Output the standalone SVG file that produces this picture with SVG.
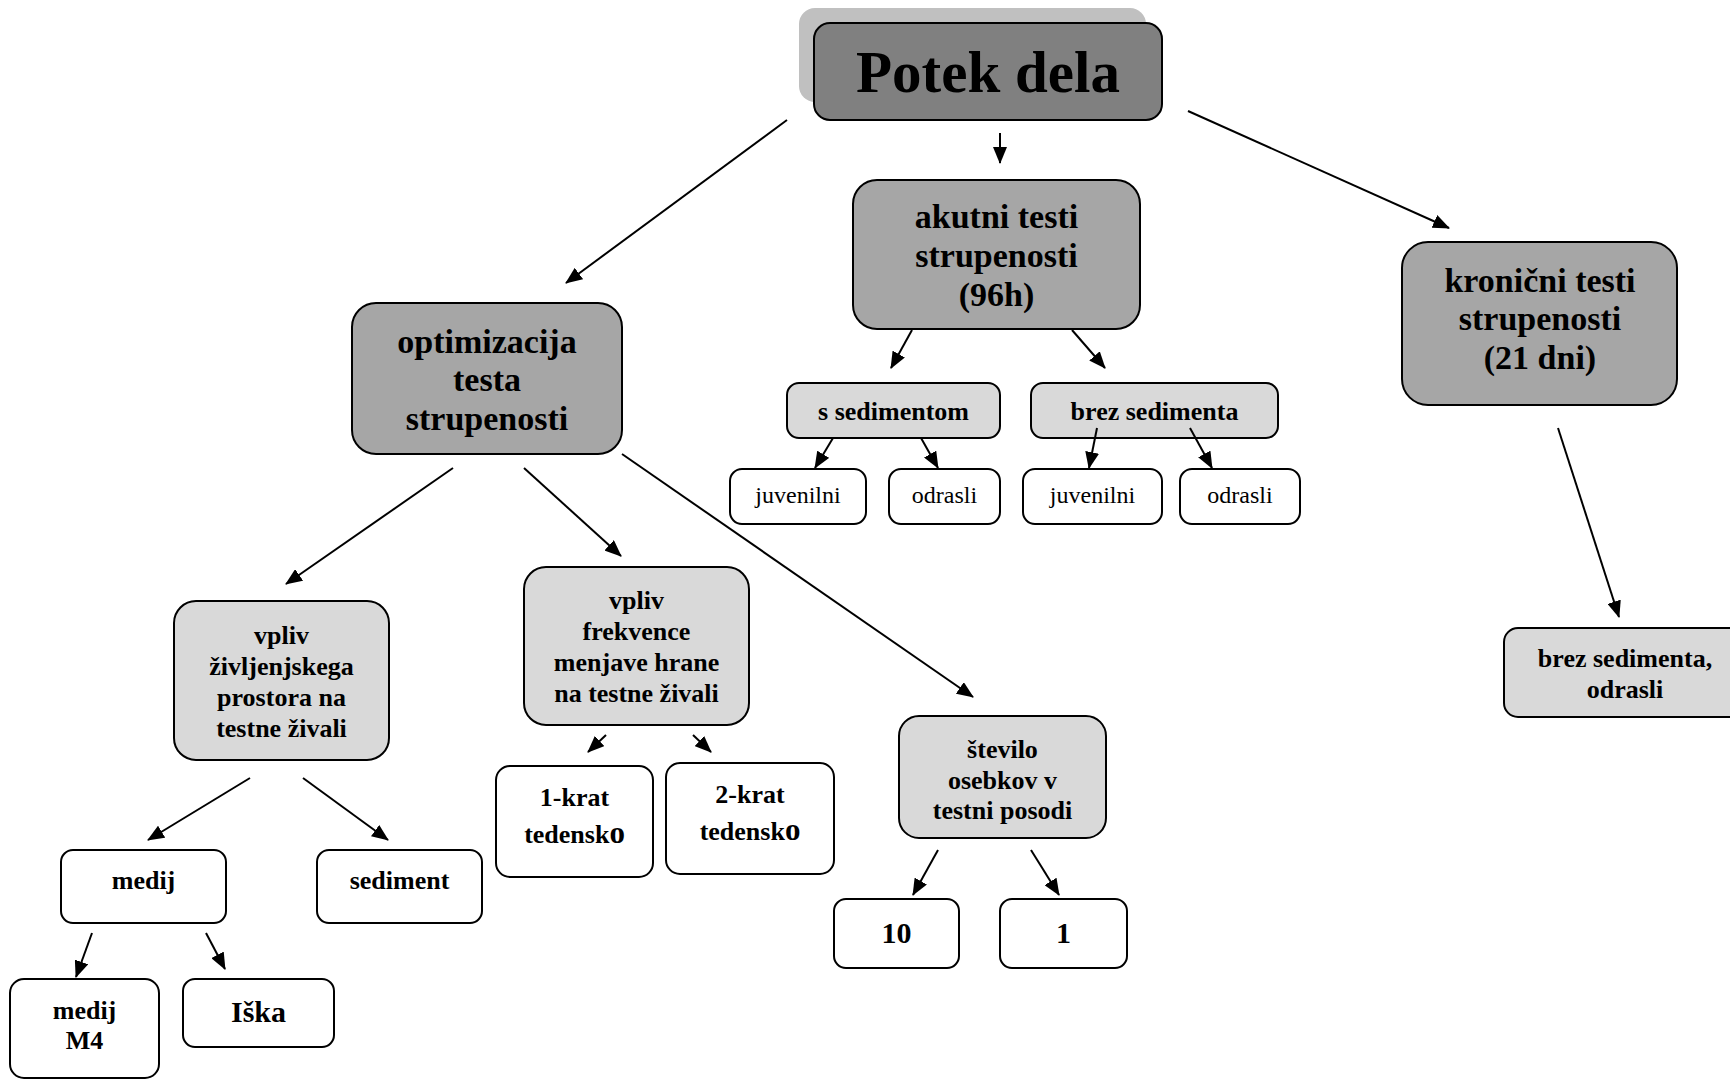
<svg xmlns="http://www.w3.org/2000/svg" width="1730" height="1081" viewBox="0 0 1730 1081">
<style>
text{font-family:"Liberation Serif","Times New Roman",serif;text-anchor:middle;fill:#000}
.b{font-weight:bold}
.box{stroke:#000;stroke-width:2}
.d{fill:#a6a6a6}
.l{fill:#d9d9d9}
.w{fill:#fff}
.t34{font-size:34px;font-weight:bold}
.t26{font-size:26px;font-weight:bold}
.t24{font-size:24px}
.t30{font-size:30px;font-weight:bold}
.c line{stroke:#000;stroke-width:2;marker-end:url(#ah)}
</style>
<defs>
<marker id="ah" viewBox="0 0 17 14" refX="16" refY="7" markerWidth="17" markerHeight="14" markerUnits="userSpaceOnUse" orient="auto">
<path d="M0,0 L17,7 L0,14 z" fill="#000"/>
</marker>
</defs>
<rect width="1730" height="1081" fill="#fff"/>

<g id="root">
<rect x="799" y="8" width="347" height="94" rx="16" fill="#c0c0c0"/>
<rect class="box" x="814" y="23" width="348" height="97" rx="16" fill="#808080"/>
<text class="b" x="988" y="92" font-size="59">Potek dela</text>
</g>

<g id="optimizacija">
<rect class="box d" x="352" y="303" width="270" height="151" rx="24"/>
<text class="t34" x="487" y="353">optimizacija</text>
<text class="t34" x="487" y="391">testa</text>
<text class="t34" x="487" y="430">strupenosti</text>
</g>

<g id="akutni">
<rect class="box d" x="853" y="180" width="287" height="149" rx="24"/>
<text class="t34" x="996.5" y="228">akutni testi</text>
<text class="t34" x="996.5" y="267">strupenosti</text>
<text class="t34" x="996.5" y="306">(96h)</text>
</g>

<g id="kronicni">
<rect class="box d" x="1402" y="242" width="275" height="163" rx="26"/>
<text class="t34" x="1540" y="292">kronični testi</text>
<text class="t34" x="1540" y="330">strupenosti</text>
<text class="t34" x="1540" y="369">(21 dni)</text>
</g>

<g id="s-sedimentom">
<rect class="box l" x="787" y="383" width="213" height="55" rx="12"/>
<text class="t26" x="893.5" y="420">s sedimentom</text>
</g>

<g id="brez-sedimenta">
<rect class="box l" x="1031" y="383" width="247" height="55" rx="12"/>
<text class="t26" x="1154.5" y="420">brez sedimenta</text>
</g>

<g id="juvenilni-1">
<rect class="box w" x="730" y="469" width="136" height="55" rx="12"/>
<text class="t24" x="798" y="503">juvenilni</text>
</g>
<g id="odrasli-1">
<rect class="box w" x="889" y="469" width="111" height="55" rx="12"/>
<text class="t24" x="944.5" y="503">odrasli</text>
</g>
<g id="juvenilni-2">
<rect class="box w" x="1023" y="469" width="139" height="55" rx="12"/>
<text class="t24" x="1092.5" y="503">juvenilni</text>
</g>
<g id="odrasli-2">
<rect class="box w" x="1180" y="469" width="120" height="55" rx="12"/>
<text class="t24" x="1240" y="503">odrasli</text>
</g>

<g id="kronicni-child">
<rect class="box l" x="1504" y="628" width="245" height="89" rx="14"/>
<text class="t26" x="1625" y="667">brez sedimenta,</text>
<text class="t26" x="1625" y="698">odrasli</text>
</g>

<g id="vpliv-zivljenjskega">
<rect class="box l" x="174" y="601" width="215" height="159" rx="22"/>
<text class="t26" x="281.5" y="644">vpliv</text>
<text class="t26" x="281.5" y="675">življenjskega</text>
<text class="t26" x="281.5" y="706">prostora na</text>
<text class="t26" x="281.5" y="737">testne živali</text>
</g>

<g id="vpliv-frekvence">
<rect class="box l" x="524" y="567" width="225" height="158" rx="22"/>
<text class="t26" x="636.5" y="609">vpliv</text>
<text class="t26" x="636.5" y="640">frekvence</text>
<text class="t26" x="636.5" y="671">menjave hrane</text>
<text class="t26" x="636.5" y="702">na testne živali</text>
</g>

<g id="stevilo">
<rect class="box l" x="899" y="716" width="207" height="122" rx="20"/>
<text class="t26" x="1002.5" y="758">število</text>
<text class="t26" x="1002.5" y="789">osebkov v</text>
<text class="t26" x="1002.5" y="819">testni posodi</text>
</g>

<g id="krat-1">
<rect class="box w" x="496" y="766" width="157" height="111" rx="14"/>
<text class="t26" x="574.5" y="806">1-krat</text>
<text class="t26" x="574.5" y="843">tedensk<tspan font-size="31">o</tspan></text>
</g>
<g id="krat-2">
<rect class="box w" x="666" y="763" width="168" height="111" rx="14"/>
<text class="t26" x="750" y="803">2-krat</text>
<text class="t26" x="750" y="840">tedensk<tspan font-size="31">o</tspan></text>
</g>

<g id="n10">
<rect class="box w" x="834" y="899" width="125" height="69" rx="12"/>
<text class="t30" x="896.5" y="943">10</text>
</g>
<g id="n1">
<rect class="box w" x="1000" y="899" width="127" height="69" rx="12"/>
<text class="t30" x="1063.5" y="943">1</text>
</g>

<g id="medij">
<rect class="box w" x="61" y="850" width="165" height="73" rx="12"/>
<text class="t26" x="143.5" y="889">medij</text>
</g>
<g id="sediment">
<rect class="box w" x="317" y="850" width="165" height="73" rx="12"/>
<text class="t26" x="399.5" y="889">sediment</text>
</g>
<g id="medij-m4">
<rect class="box w" x="10" y="979" width="149" height="99" rx="14"/>
<text class="t26" x="84.5" y="1019">medij</text>
<text class="t26" x="84.5" y="1049">M4</text>
</g>
<g id="iska">
<rect class="box w" x="183" y="979" width="151" height="68" rx="12"/>
<text class="t30" x="258.5" y="1022">Iška</text>
</g>

<g id="connectors" class="c">
<line x1="787" y1="120" x2="566" y2="283"/>
<line x1="1000" y1="133" x2="1000" y2="163"/>
<line x1="1188" y1="111" x2="1449" y2="228"/>
<line x1="912" y1="330" x2="891" y2="368"/>
<line x1="1072" y1="330" x2="1105" y2="368"/>
<line x1="833" y1="438" x2="815" y2="468"/>
<line x1="921" y1="438" x2="938" y2="468"/>
<line x1="1097" y1="428" x2="1089" y2="468"/>
<line x1="1190" y1="428" x2="1212" y2="468"/>
<line x1="1558" y1="428" x2="1619" y2="617"/>
<line x1="453" y1="468" x2="286" y2="584"/>
<line x1="524" y1="468" x2="621" y2="556"/>
<line x1="622" y1="454" x2="973" y2="697"/>
<line x1="606" y1="735" x2="588" y2="752"/>
<line x1="693" y1="735" x2="711" y2="752"/>
<line x1="250" y1="778" x2="148" y2="840"/>
<line x1="303" y1="778" x2="388" y2="840"/>
<line x1="92" y1="933" x2="76" y2="977"/>
<line x1="206" y1="933" x2="225" y2="969"/>
<line x1="938" y1="850" x2="913" y2="895"/>
<line x1="1031" y1="850" x2="1059" y2="895"/>
</g>
</svg>
